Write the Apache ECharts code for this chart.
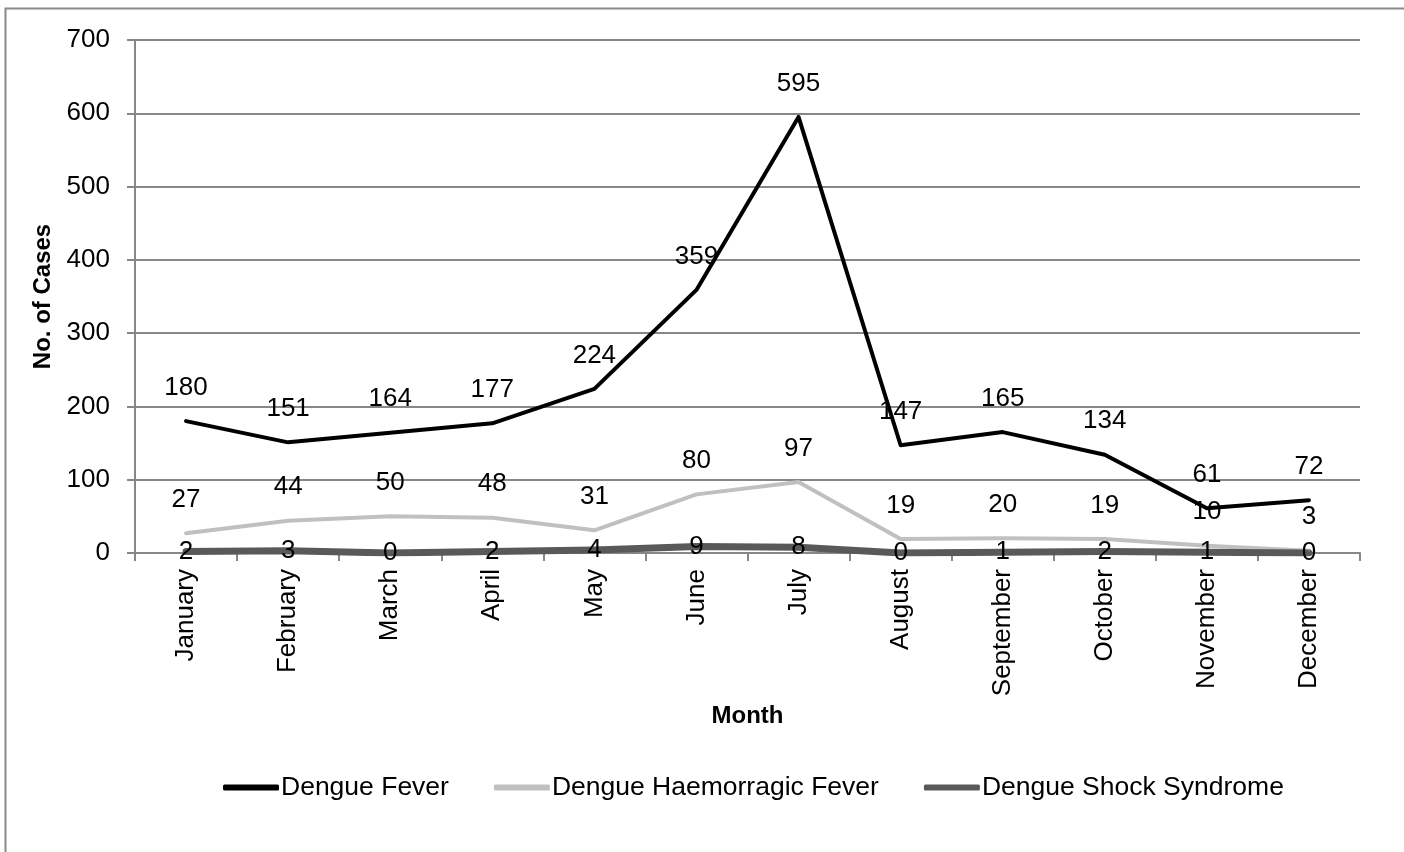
<!DOCTYPE html>
<html>
<head>
<meta charset="utf-8">
<script src="https://cdn.jsdelivr.net/npm/echarts@6/dist/echarts.min.js"></script>
<style>
  html, body { margin: 0; padding: 0; background: #fff; }
  #charts { width: 1404px; height: 852px; }
</style>
</head>
<body>
<div id="charts"></div>
<script>
// 数据
var months = ['January', 'February', 'March', 'April', 'May', 'June', 'July',
  'August', 'September', 'October', 'November', 'December'];
var fever = [180, 151, 164, 177, 224, 359, 595, 147, 165, 134, 61, 72];
var haemorrhagic = [27, 44, 50, 48, 31, 80, 97, 19, 20, 19, 10, 3];
var shock = [2, 3, 0, 2, 4, 9, 8, 0, 1, 2, 1, 0];
var seriesNames = ['Dengue Fever', 'Dengue Haemorragic Fever', 'Dengue Shock Syndrome'];

var font = 'Liberation Sans, Arial, sans-serif';
var fontSize = 26;
var gridColor = '#878787';

function lineSeries(name, data, color, width, labelPos, dist) {
    return {
        name: name,
        type: 'line',
        data: data,
        symbol: 'circle',
        symbolSize: 1,
        itemStyle: { color: color },
        lineStyle: { color: color, width: width, cap: 'round', join: 'round' },
        label: {
            show: true,
            position: labelPos,
            distance: dist,
            color: '#000',
            fontFamily: font,
            fontSize: fontSize
        },
        emphasis: { disabled: true }
    };
}

var myChart = echarts.init(document.getElementById('charts'));

var option = {
    animation: false,
    graphic: [{
        type: 'rect',
        shape: { x: 5.5, y: 8.5, width: 1420, height: 900 },
        style: { fill: 'none', stroke: '#8a8a8a', lineWidth: 2 },
        silent: true
    }],
    grid: { left: 135, right: 44, top: 40, bottom: 299, containLabel: false },
    legend: {
        data: seriesNames,
        top: 769,
        left: 218,
        itemWidth: 56,
        itemHeight: 6,
        itemGap: 45,
        icon: 'roundRect',
        textStyle: { fontFamily: font, fontSize: 26.5, color: '#000', padding: [0, 0, 0, -3] }
    },
    xAxis: {
        type: 'category',
        data: months,
        boundaryGap: true,
        name: 'Month',
        nameLocation: 'middle',
        nameGap: 150,
        nameTextStyle: { fontFamily: font, fontSize: 24, fontWeight: 'bold', color: '#000' },
        axisLine: { lineStyle: { color: gridColor, width: 2 } },
        axisTick: { show: true, length: 8, inside: false, lineStyle: { color: gridColor, width: 2 } },
        axisLabel: { rotate: 90, margin: 16, fontFamily: font, fontSize: fontSize, color: '#000' }
    },
    yAxis: {
        type: 'value',
        min: 0,
        max: 700,
        interval: 100,
        name: 'No. of Cases',
        nameLocation: 'middle',
        nameGap: 78,
        nameTextStyle: { fontFamily: font, fontSize: 24, fontWeight: 'bold', color: '#000' },
        axisLine: { show: true, lineStyle: { color: gridColor, width: 2 } },
        axisTick: { show: true, length: 8, lineStyle: { color: gridColor, width: 2 } },
        splitLine: { lineStyle: { color: gridColor, width: 2 } },
        axisLabel: { margin: 25, fontFamily: font, fontSize: fontSize, color: '#000' }
    },
    series: [
        lineSeries(seriesNames[0], fever, '#000000', 4, 'top', 20),
        lineSeries(seriesNames[1], haemorrhagic, '#c0c0c0', 4, 'top', 20),
        lineSeries(seriesNames[2], shock, '#595959', 7, 'inside', 0)
    ]
};
myChart.setOption(option);
</script>
</body>
</html>
